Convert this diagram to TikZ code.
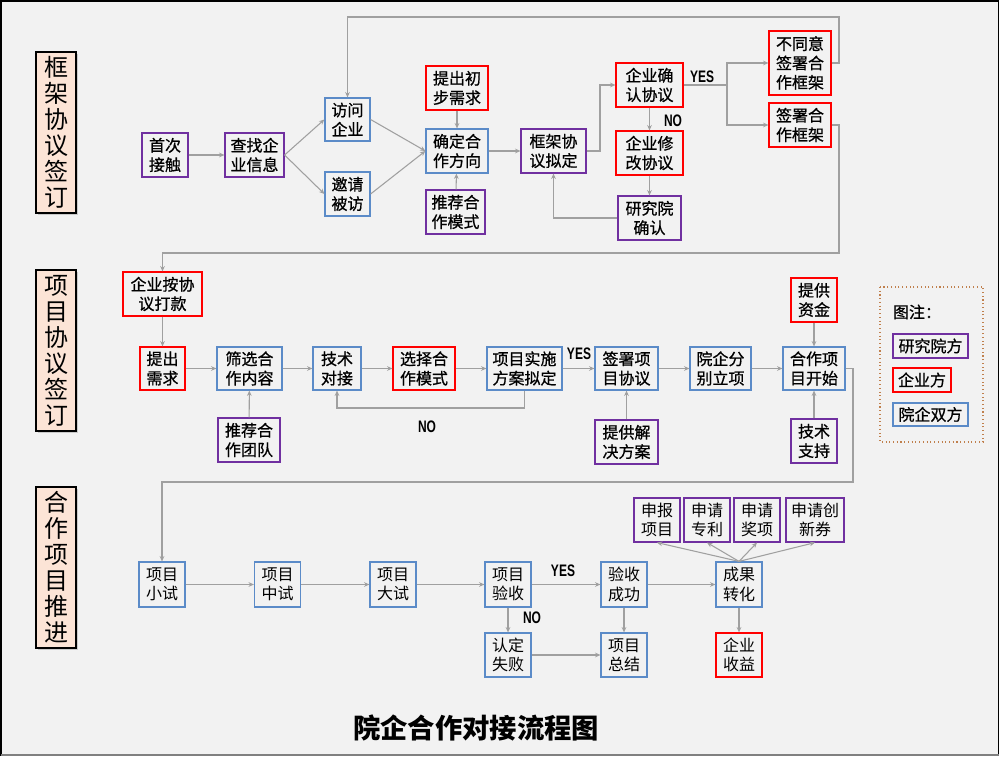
\documentclass[tikz,border=0pt]{standalone}
\usepackage{fontspec}
\setmainfont{Noto Sans CJK SC}
\newfontfamily\cjkm[FakeBold=0.8]{Noto Sans CJK SC}
\newfontfamily\lat{Liberation Sans}
\usetikzlibrary{arrows.meta,shadows}
\definecolor{bg}{HTML}{F2F2F2}
\definecolor{cp}{HTML}{7030A0}
\definecolor{cr}{HTML}{FF0000}
\definecolor{cb}{HTML}{5B8BC8}
\definecolor{ln}{HTML}{A0A0A0}
\definecolor{peach}{HTML}{FCE4D6}
\definecolor{lg}{HTML}{C0804D}
\begin{document}
\begin{tikzpicture}[x=0.75pt,y=-0.75pt,
  box/.style={draw,fill=bg,line width=0.9pt,inner sep=0pt,align=center,font=\cjkm\fontsize{12}{14.5}\selectfont},
  bx/.style 2 args={box,minimum width=#1*0.75pt,minimum height=#2*0.75pt},
  lbx/.style 2 args={box,font=\fontsize{12}{14.5}\selectfont,minimum width=#1*0.75pt,minimum height=#2*0.75pt},
  pb/.style={draw=cp}, rb/.style={draw=cr}, bb/.style={draw=cb},
  sect/.style={draw=black,line width=1.6pt,fill=peach,inner sep=0pt,align=center,
    minimum width=40*0.75pt,minimum height=161*0.75pt,
    font=\fontsize{18}{19.5}\selectfont,drop shadow={opacity=0.35,shadow xshift=1.5pt,shadow yshift=-1.5pt}},
  arr/.style={draw=ln,line width=0.8pt,-{Stealth[length=4pt,width=3.5pt]}},
  yn/.style={font=\lat\fontsize{12.5}{12.5}\selectfont\bfseries,inner sep=0pt}
]
\useasboundingbox (0,0) rectangle (1000,762);
\fill[white] (0,0) rectangle (1000,762);
\draw[fill=bg,line width=1pt] (1,1) rectangle (998.5,755);
\draw[gray,line width=1.5pt] (1,755) -- (998.5,755);

% section labels
\node[sect] (s1) at (56,132.5) {框\\架\\协\\议\\签\\订};
\node[sect] (s2) at (56,350.5) {项\\目\\协\\议\\签\\订};
\node[sect] (s3) at (56,567.5) {合\\作\\项\\目\\推\\进};

% top section
\node[bx={46}{44},pb] (a1) at (165,155) {首次\\接触};
\node[bx={59}{44},pb] (a2) at (254.5,155) {查找企\\业信息};
\node[bx={45}{43},bb] (a3) at (347.5,119.5) {访问\\企业};
\node[bx={45}{44},bb] (a4) at (347.5,194) {邀请\\被访};
\node[bx={62}{44},rb] (a5) at (457,88) {提出初\\步需求};
\node[bx={62}{44},bb] (a6) at (457,151) {确定合\\作方向};
\node[bx={59}{44},pb] (a7) at (455.5,212) {推荐合\\作模式};
\node[bx={65}{44},pb] (a8) at (553.5,151) {框架协\\议拟定};
\node[bx={67}{44},rb] (a9) at (649.5,85) {企业确\\认协议};
\node[bx={67}{44},rb] (a10) at (649.5,153) {企业修\\改协议};
\node[bx={63}{44},pb] (a11) at (649.5,218) {研究院\\确认};
\node[bx={62}{64},rb] (a12) at (800,63) {不同意\\签署合\\作框架};
\node[bx={62}{44},rb] (a13) at (800,125) {签署合\\作框架};

\draw[arr] (a1) -- (a2);
\draw[arr] (a2.east) -- (a3.west);
\draw[arr] (a2.east) -- (a4.west);
\draw[arr] (a3.east) -- (a6.west);
\draw[arr] (a4.east) -- (a6.west);
\draw[arr] (a5) -- (a6);
\draw[arr] (a7) -- (a6);
\draw[arr] (a6) -- (a8);
\draw[arr] (a8.east) -- (600,151) |- (a9.west);
\draw[arr] (a9) -- (a10);
\draw[arr] (a10) -- (a11);
\draw[arr] (a11.west) -| (a8.south);
\coordinate (ysplit) at (727,85);
\draw[draw=ln,line width=0.8pt] (a9.east) -- (ysplit);
\draw[arr] (ysplit) |- (a12.west);
\draw[arr] (ysplit) |- (a13.west);
\draw[arr] (a12.east) -| (839,17) -| (a3.north);
\node[yn] (yes1) at (702,77) {\scalebox{0.72}[1]{YES}};
\node[yn] (no1) at (673,121) {\scalebox{0.72}[1]{NO}};

% middle section
\node[bx={79}{44},rb] (b1) at (162.5,294) {企业按协\\议打款};
\node[bx={45}{43},rb] (b2) at (162.5,368.5) {提出\\需求};
\node[bx={65}{43},bb] (b3) at (249.5,368.5) {筛选合\\作内容};
\node[bx={62}{44},pb] (b4) at (249,440) {推荐合\\作团队};
\node[bx={48}{43},bb] (b5) at (337,368.5) {技术\\对接};
\node[bx={62}{43},rb] (b6) at (424,368.5) {选择合\\作模式};
\node[bx={75}{43},bb] (b7) at (524.5,368.5) {项目实施\\方案拟定};
\node[bx={63}{43},bb] (b8) at (626.5,368.5) {签署项\\目协议};
\node[bx={63}{44},pb] (b9) at (626.5,442) {提供解\\决方案};
\node[bx={61}{43},bb] (b10) at (720.5,368.5) {院企分\\别立项};
\node[bx={62}{43},bb] (b11) at (814,368.5) {合作项\\目开始};
\node[bx={46}{44},rb] (b12) at (814,300) {提供\\资金};
\node[bx={46}{44},pb] (b13) at (814,441) {技术\\支持};

\draw[arr] (a13.east) -| (839,253) -| (b1.north);
\draw[arr] (b1) -- (b2);
\draw[arr] (b2) -- (b3);
\draw[arr] (b4) -- (b3);
\draw[arr] (b3) -- (b5);
\draw[arr] (b5) -- (b6);
\draw[arr] (b6) -- (b7);
\draw[arr] (b7) -- (b8);
\draw[arr] (b9) -- (b8);
\draw[arr] (b8) -- (b10);
\draw[arr] (b10) -- (b11);
\draw[arr] (b12) -- (b11);
\draw[arr] (b13) -- (b11);
\draw[arr] (b7.south) -- (524.5,408) -| (b5.south);
\node[yn] (yes2) at (579,354) {\scalebox{0.72}[1]{YES}};
\node[yn] (no2) at (427,427) {\scalebox{0.72}[1]{NO}};

% legend
\draw[lg,line width=0.8pt,dotted] (880,287) rectangle (983,442);
\node[font=\cjkm\fontsize{12}{14}\selectfont,inner sep=0pt] (lt) at (917,312) {图注：};
\node[bx={75}{24},pb] (l1) at (930.5,346) {研究院方};
\node[bx={58}{24},rb] (l2) at (922,380) {企业方};
\node[bx={75}{23},bb] (l3) at (930.5,414.5) {院企双方};

% bottom section
\node[lbx={46}{45},bb] (c1) at (162,584.5) {项目\\小试};
\node[lbx={46}{45},bb] (c2) at (277.5,584.5) {项目\\中试};
\node[lbx={46}{45},bb] (c3) at (393,584.5) {项目\\大试};
\node[lbx={46}{45},bb] (c4) at (508,584.5) {项目\\验收};
\node[lbx={46}{44},bb] (c5) at (508,655) {认定\\失败};
\node[lbx={46}{45},bb] (c6) at (624,584.5) {验收\\成功};
\node[lbx={46}{44},bb] (c7) at (624,655) {项目\\总结};
\node[lbx={46}{45},bb] (c8) at (739,584.5) {成果\\转化};
\node[lbx={46}{44},rb] (c9) at (739,655) {企业\\收益};
\node[lbx={46}{44},pb] (d1) at (657,520) {申报\\项目};
\node[lbx={46}{44},pb] (d2) at (707,520) {申请\\专利};
\node[lbx={46}{44},pb] (d3) at (757,520) {申请\\奖项};
\node[lbx={58}{44},pb] (d4) at (815,520) {申请创\\新券};

\draw[arr] (b11.east) -| (853,482) -| (c1.north);
\draw[arr] (c1) -- (c2);
\draw[arr] (c2) -- (c3);
\draw[arr] (c3) -- (c4);
\draw[arr] (c4) -- (c6);
\draw[arr] (c4) -- (c5);
\draw[arr] (c5) -- (c7);
\draw[arr] (c6) -- (c7);
\draw[arr] (c6) -- (c8);
\draw[arr] (c8) -- (c9);
\draw[arr] (c8.north) -- (d1.south);
\draw[arr] (c8.north) -- (d2.south);
\draw[arr] (c8.north) -- (d3.south);
\draw[arr] (c8.north) -- (d4.south);
\node[yn] (yes3) at (563,571) {\scalebox{0.72}[1]{YES}};
\node[yn] (no3) at (532,618) {\scalebox{0.72}[1]{NO}};

% title
\node[font=\fontsize{20.5}{22}\selectfont\bfseries,inner sep=0pt] (title) at (476,728) {院企合作对接流程图};
\end{tikzpicture}
\end{document}
